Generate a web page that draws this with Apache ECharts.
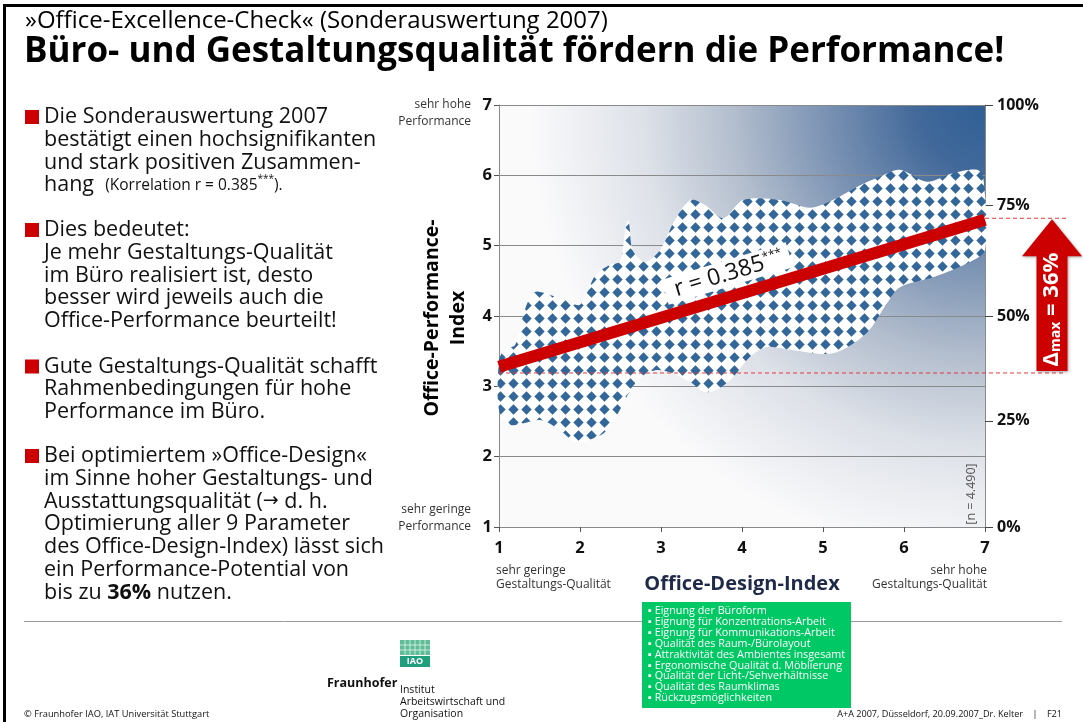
<!DOCTYPE html>
<html><head><meta charset="utf-8">
<script src="https://cdn.jsdelivr.net/npm/echarts@6/dist/echarts.min.js"></script>
<style>html,body{margin:0;padding:0;background:#fff}#c{width:1083px;height:722px}</style>
</head><body><div id="c"></div>
<script>
// ---------- data ----------
const xTicks = [1, 2, 3, 4, 5, 6, 7];
const yTicks = [1, 2, 3, 4, 5, 6, 7];
const rightTickValues = [1, 2.51, 4, 5.57, 7];
const rightTickLabels = ['0%', '25%', '50%', '75%', '100%'];
// outline of the scatter cloud (upper edge left->right, then lower edge right->left)
const bandUpper = [[1.00,3.37],[1.07,3.52],[1.20,3.59],[1.32,4.09],[1.44,4.34],[1.63,4.30],[1.81,4.23],[2.00,4.16],[2.19,4.58],[2.37,4.73],[2.49,4.77],[2.57,5.29],[2.60,5.36],[2.65,4.94],[2.80,4.77],[2.99,4.94],[3.17,5.36],[3.36,5.65],[3.54,5.58],[3.77,5.39],[4.01,5.65],[4.47,5.65],[4.84,5.54],[5.12,5.65],[5.46,5.86],[5.70,5.98],[5.95,6.08],[6.28,5.91],[6.60,6.03],[6.90,6.08],[6.98,5.96]];
const bandLower = [[7.00,4.94],[6.78,4.75],[6.36,4.55],[5.95,4.41],[5.79,4.18],[5.54,3.76],[5.12,3.47],[4.59,3.52],[4.31,3.56],[4.10,3.42],[3.89,3.13],[3.69,2.95],[3.54,2.92],[3.36,3.06],[3.11,3.20],[2.93,3.23],[2.74,3.12],[2.59,2.88],[2.49,2.66],[2.31,2.35],[2.12,2.24],[1.94,2.21],[1.75,2.38],[1.51,2.52],[1.14,2.45],[1.00,2.66]];
const regression = [[1, 3.28], [7, 5.37]];
const potentialLow = 3.19;
const potentialHigh = 5.39;
const correlationText = 'r = 0.385';
const deltaText = ' = 36%';
const sampleText = '[n = 4.490]';
const designParams = ['Eignung der Büroform','Eignung für Konzentrations-Arbeit','Eignung für Kommunikations-Arbeit','Qualität des Raum-/Bürolayout','Attraktivität des Ambientes insgesamt','Ergonomische Qualität d. Möblierung','Qualität der Licht-/Sehverhältnisse','Qualität des Raumklimas','Rückzugsmöglichkeiten'];
const bullets = [
  {y: 117, lines: ['Die Sonderauswertung 2007','bestätigt einen hochsignifikanten','und stark positiven Zusammen-','hang  {s|(Korrelation r = 0.385}{sup|***}{s|).}']},
  {y: 230, lines: ['Dies bedeutet:','Je mehr Gestaltungs-Qualität','im Büro realisiert ist, desto','besser wird jeweils auch die','Office-Performance beurteilt!']},
  {y: 366.5, lines: ['Gute Gestaltungs-Qualität schafft','Rahmenbedingungen für hohe','Performance im Büro.']},
  {y: 456, lines: ['Bei optimiertem »Office-Design«','im Sinne hoher Gestaltungs- und','Ausstattungsqualität ({ar|\u2192} d. h.','Optimierung aller 9 Parameter','des Office-Design-Index) lässt sich','ein Performance-Potential von','bis zu {b|36%} nutzen.']}
];

// ---------- helpers ----------
const FONT = "'Open Sans', 'Noto Sans', sans-serif";
const pat = document.createElement('canvas');
pat.width = 13; pat.height = 13;
(function(){
  const g = pat.getContext('2d');
  g.fillStyle = '#ffffff'; g.fillRect(0,0,13,13);
  g.fillStyle = '#336699';
  g.beginPath(); g.moveTo(6.5,1.3); g.lineTo(11.7,6.5); g.lineTo(6.5,11.7); g.lineTo(1.3,6.5); g.closePath(); g.fill();
})();

function txt(x, y, text, font, fill, align, vAlign, extra) {
  return Object.assign({type:'text', x:x, y:y, silent:true, style:Object.assign({text:text, font:font, fill:fill||'#000', align:align||'left', verticalAlign:vAlign||'middle', textAlign:align||'left', textVerticalAlign:vAlign||'middle'}, (extra||{}).style||{})}, (extra||{}).el||{});
}

const graphics = [];
// frame
graphics.push({type:'line', shape:{x1:4, y1:5.5, x2:1083, y2:5.5}, style:{stroke:'#000', lineWidth:3}, silent:true});
graphics.push({type:'line', shape:{x1:4.5, y1:4, x2:4.5, y2:722}, style:{stroke:'#000', lineWidth:3}, silent:true});
// titles
graphics.push(txt(25, 21, '»Office-Excellence-Check« (Sonderauswertung 2007)', '24px ' + FONT, '#000'));
graphics.push(txt(24, 52, 'Büro- und Gestaltungsqualität fördern die Performance!', 'bold 35px ' + FONT, '#000'));
// bullets
const LH = 22.75;
const BF = 21.5;
bullets.forEach(b => {
  graphics.push({type:'rect', shape:{x:25, y:b.y-7, width:14, height:14}, style:{fill:'#cc0000'}, silent:true});
  b.lines.forEach((ln, i) => {
    graphics.push(txt(44, b.y + i*LH, ln, BF + 'px ' + FONT, '#111', 'left', 'middle', {style:{rich:{
      s:{font:'15.5px ' + FONT, fill:'#111'},
      sup:{font:'10px ' + FONT, fill:'#111', verticalAlign:'top'},
      b:{font:'bold ' + BF + 'px ' + FONT, fill:'#111'},
      ar:{font:'19px "DejaVu Sans", sans-serif', fill:'#111'}
    }}}));
  });
});
// axis side texts
graphics.push(txt(471, 105, 'sehr hohe', '12px ' + FONT, '#333', 'right'));
graphics.push(txt(471, 122, 'Performance', '12px ' + FONT, '#333', 'right'));
graphics.push(txt(471, 510, 'sehr geringe', '12px ' + FONT, '#333', 'right'));
graphics.push(txt(471, 527, 'Performance', '12px ' + FONT, '#333', 'right'));
graphics.push(txt(496, 571, 'sehr geringe', '12px ' + FONT, '#333', 'left'));
graphics.push(txt(496, 585, 'Gestaltungs-Qualität', '12px ' + FONT, '#333', 'left'));
graphics.push(txt(987, 571, 'sehr hohe', '12px ' + FONT, '#333', 'right'));
graphics.push(txt(987, 585, 'Gestaltungs-Qualität', '12px ' + FONT, '#333', 'right'));
graphics.push(txt(742, 584, 'Office-Design-Index', 'bold 20px ' + FONT, '#1f2a4a', 'center'));
graphics.push(txt(432, 318, 'Office-Performance-', 'bold 19.5px ' + FONT, '#000', 'center', 'middle', {el:{rotation:Math.PI/2}}));
graphics.push(txt(458, 318, 'Index', 'bold 19.5px ' + FONT, '#000', 'center', 'middle', {el:{rotation:Math.PI/2}}));
graphics.push(txt(971, 494, sampleText, '12.5px ' + FONT, '#555', 'center', 'middle', {el:{rotation:Math.PI/2}}));
// separator
graphics.push({type:'line', shape:{x1:24, y1:621.5, x2:1062, y2:621.5}, style:{stroke:'#9a9a9a', lineWidth:1}, silent:true});
// green box
graphics.push({type:'rect', shape:{x:642, y:602, width:209, height:106}, style:{fill:'#00c864'}, silent:true});
designParams.forEach((p, i) => {
  graphics.push(txt(648, 611 + i*10.9, '\u25AA ' + p, '10.8px ' + FONT, '#fff', 'left'));
});
// logo
graphics.push({type:'rect', shape:{x:400, y:640, width:30, height:15}, style:{fill:'#5fbe98'}, silent:true});
for (let i = 1; i < 6; i++) graphics.push({type:'line', shape:{x1:400 + i*5, y1:640, x2:400 + i*5, y2:655}, style:{stroke:'#ffffff', lineWidth:0.8, opacity:0.8}, silent:true});
for (let i = 1; i < 3; i++) graphics.push({type:'line', shape:{x1:400, y1:640 + i*5, x2:430, y2:640 + i*5}, style:{stroke:'#ffffff', lineWidth:0.8, opacity:0.8}, silent:true});
graphics.push({type:'rect', shape:{x:400, y:656, width:30, height:11}, style:{fill:'#1f9f7c'}, silent:true});
graphics.push(txt(415, 661.5, 'IAO', 'bold 9px ' + FONT, '#fff', 'center'));
graphics.push(txt(327, 683, 'Fraunhofer', 'bold 12.5px ' + FONT, '#111', 'left'));
graphics.push(txt(400, 690, 'Institut', '10.5px ' + FONT, '#111', 'left'));
graphics.push(txt(400, 702, 'Arbeitswirtschaft und', '10.5px ' + FONT, '#111', 'left'));
graphics.push(txt(400, 714, 'Organisation', '10.5px ' + FONT, '#111', 'left'));
// footer
graphics.push(txt(24, 714, '© Fraunhofer IAO, IAT Universität Stuttgart', '9.3px ' + FONT, '#111', 'left'));
graphics.push(txt(1062, 714, 'A+A 2007, Düsseldorf, 20.09.2007_Dr. Kelter    |    F21', '9.1px ' + FONT, '#111', 'right'));

const chart = echarts.init(document.getElementById('c'));
const option = {
  animation: false,
  backgroundColor: '#ffffff',
  grid: {
    left: 499, right: 98, top: 105, bottom: 195, show: true, borderWidth: 0,
    backgroundColor: {type:'radial', x:1, y:0, r:1.08, colorStops:[
      {offset:0, color:'#2f5f96'}, {offset:0.15, color:'#42699a'}, {offset:0.35, color:'#7a92b3'},
      {offset:0.55, color:'#b2bdcd'}, {offset:0.75, color:'#dde1e8'}, {offset:1, color:'#fafafb'}]}
  },
  xAxis: {
    type:'value', min:1, max:7, interval:1,
    axisLine:{show:true, lineStyle:{color:'#8a8a8a', width:1}},
    axisTick:{show:true, length:5, lineStyle:{color:'#555'}},
    axisLabel:{margin:13, fontWeight:'bold', fontSize:16.5, color:'#111', fontFamily:FONT},
    splitLine:{show:false}
  },
  yAxis: [{
    type:'value', min:1, max:7, interval:1, position:'left',
    axisLine:{show:true, lineStyle:{color:'#8a8a8a', width:1}},
    axisTick:{show:true, length:5, lineStyle:{color:'#555'}},
    axisLabel:{margin:7, fontWeight:'bold', fontSize:16.5, color:'#111', fontFamily:FONT},
    splitLine:{show:true, lineStyle:{color:'#8a8a8a', width:1}}
  }, {
    type:'value', min:1, max:7, position:'right',
    axisLine:{show:true, lineStyle:{color:'#8a8a8a', width:1}},
    axisTick:{show:true, length:8, customValues:rightTickValues, lineStyle:{color:'#444'}},
    axisLabel:{margin:12, fontWeight:'bold', fontSize:16, color:'#111', fontFamily:FONT, customValues:rightTickValues,
      formatter: v => { let k = 0, d = 1e9; rightTickValues.forEach((t, i) => { if (Math.abs(t - v) < d) { d = Math.abs(t - v); k = i; } }); return rightTickLabels[k]; }},
    splitLine:{show:false}
  }],
  graphic: graphics,
  series: [
    {
      type:'custom', name:'cloud', silent:true, z:2, data:[[1,1]],
      renderItem: (params, api) => {
        const pts = bandUpper.concat(bandLower).map(p => api.coord(p));
        return {type:'polygon', shape:{points:pts, smooth:0.3}, style:{fill:{image:pat, repeat:'repeat'}}};
      }
    },
    {
      type:'line', name:'regression', silent:true, z:4, symbol:'none', data:regression,
      lineStyle:{color:'#cc0000', width:12, cap:'butt'}
    },
    {
      type:'custom', name:'annot', silent:true, z:6, clip:false, data:[[7, potentialHigh]],
      renderItem: (params, api) => {
        const lowL = api.coord([1, potentialLow]);
        const lowR = api.coord([7, potentialLow]);
        const high = api.coord([7, potentialHigh]);
        const ax = high[0] + 67;
        const tipY = high[1] + 1, baseY = tipY + 37, botY = lowR[1] - 2;
        const r0 = api.coord(regression[0]), r1 = api.coord(regression[1]);
        const ang = Math.atan2(r0[1] - r1[1], r1[0] - r0[0]);
        const lx = 3.9;
        const ly = regression[0][1] + (regression[1][1] - regression[0][1]) * (lx - regression[0][0]) / (regression[1][0] - regression[0][0]);
        const lp = api.coord([lx, ly]);
        const off = 23;
        const cx = lp[0] - Math.sin(ang) * off, cy = lp[1] - Math.cos(ang) * off;
        return {type:'group', children:[
          {type:'line', shape:{x1:lowL[0], y1:lowL[1], x2:lowR[0] + 78, y2:lowR[1]}, style:{stroke:'#e23a3a', lineWidth:1, lineDash:[4,3]}},
          {type:'line', shape:{x1:high[0], y1:high[1], x2:high[0] + 83, y2:high[1]}, style:{stroke:'#e23a3a', lineWidth:1, lineDash:[4,3]}},
          {type:'polygon', shape:{points:[[ax, tipY],[ax + 30, baseY],[ax + 15.5, baseY],[ax + 15.5, botY],[ax - 15.5, botY],[ax - 15.5, baseY],[ax - 30, baseY]]}, style:{fill:'#cc0000', shadowBlur:3, shadowColor:'rgba(0,0,0,0.35)', shadowOffsetX:1, shadowOffsetY:1}},
          {type:'text', x:ax, y:(baseY + botY) / 2 - 4, rotation:Math.PI/2, style:{text:'{d|\u0394}{m|max}{d|' + deltaText + '}', align:'center', verticalAlign:'middle',
            rich:{d:{font:'bold 22px ' + FONT, fill:'#fff'}, m:{font:'bold 14px ' + FONT, fill:'#fff', verticalAlign:'bottom'}}}},
          {type:'text', x:cx, y:cy, rotation:ang, style:{text:'{a|' + correlationText + '}{s|***}', align:'center', verticalAlign:'middle', backgroundColor:'#ffffff', padding:[2,7,1,10],
            rich:{a:{font:'23px ' + FONT, fill:'#111'}, s:{font:'12px ' + FONT, fill:'#111', verticalAlign:'top'}}}}
        ]};
      }
    }
  ]
};
chart.setOption(option);
</script>
</body></html>
